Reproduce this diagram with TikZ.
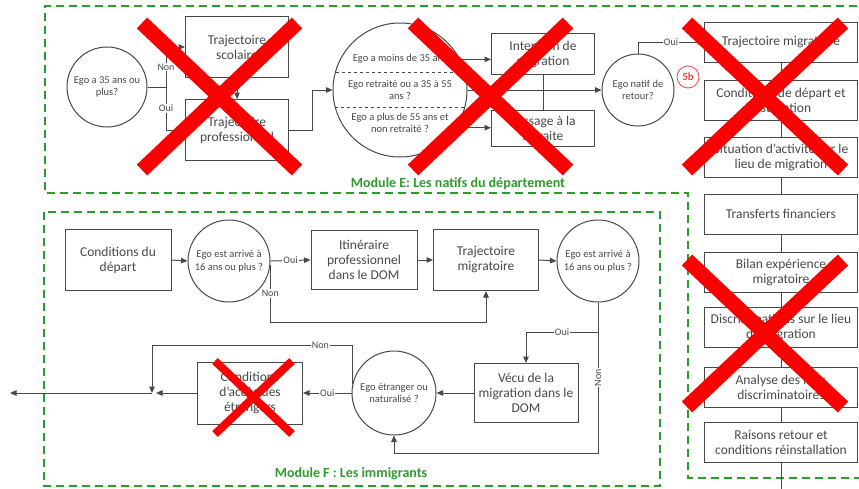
\documentclass[tikz,border=0pt]{standalone}
\usepackage{fontspec}
\setmainfont{Carlito}
\usetikzlibrary{arrows.meta}
\definecolor{ink}{RGB}{72,72,72}
\definecolor{modgreen}{RGB}{44,156,44}
\definecolor{crossred}{RGB}{250,0,0}
\definecolor{tagred}{RGB}{235,70,70}

\begin{document}
\begin{tikzpicture}[
        x=1pt, y=-1pt,
        font=\fontsize{13.5}{15}\selectfont,
        box/.style={draw=ink, line width=1pt, text=ink, align=center, inner sep=2pt},
        ask/.style={draw=ink, line width=1pt, circle, text=ink, align=center, inner sep=0pt, font=\fontsize{10.5}{12.5}\selectfont},
        asktxt/.style={text=ink, align=center, inner sep=0pt, font=\fontsize{10.5}{12.5}\selectfont},
        line/.style={draw=ink, line width=1pt},
        arrow/.style={line, -{Triangle[length=6.5pt,width=5.5pt]}},
        lab/.style={fill=white, text=ink, inner sep=1pt, font=\fontsize{10}{11}\selectfont},
        module/.style={draw=modgreen, line width=2.5pt, dash pattern=on 8pt off 5pt},
        modlabel/.style={text=modgreen, font=\fontsize{14}{16}\selectfont\bfseries},
        cross/.style={draw=crossred, line width=15pt}
    ]
        \useasboundingbox (0,0) rectangle (859,488);

        % Module outlines
        \draw[module] (870,6) -- (45,6) -- (45,193) -- (688,193) -- (688,478) -- (870,478);
        \draw[module] (44,212) rectangle (660,486);
        \node[modlabel] (labE) at (458,184) {Module E: Les natifs du département};
        \node[modlabel] (labF) at (351,474) {Module F : Les immigrants};

        % Module E
        \node[ask, minimum size=80pt] (q35) at (107,87) {Ego a 35 ans ou\\plus?};
        \coordinate (j35) at (166,87);
        \node[box, minimum width=103pt, minimum height=61pt] (scol) at (237,47) {Trajectoire\\scolaire};
        \node[box, minimum width=103pt, minimum height=61pt] (prof) at (237,130) {Trajectoire\\professionnel};
        \node[ask, minimum size=134pt] (age) at (400,90) {};
        \draw[ink, line width=0.8pt, dashed] (335.5,72) -- (464.5,72) (335.2,107) -- (464.8,107);
        \node[asktxt] (ageA) at (400,59) {Ego a moins de 35 ans};
        \node[asktxt] (ageB) at (400,90) {Ego retraité ou a 35 à 55\\ans ?};
        \node[asktxt] (ageC) at (400,123) {Ego a plus de 55 ans et\\non retraité ?};
        \node[box, minimum width=103pt, minimum height=41pt] (inten) at (543,54) {Intention de\\migration};
        \node[box, minimum width=103pt, minimum height=36pt] (retr) at (543,128) {Passage à la\\retraite};
        \node[ask, minimum size=72pt] (natif) at (638,90) {Ego natif de\\retour?};
        \node[draw=tagred, line width=0.8pt, circle, minimum size=22pt, inner sep=0pt, text=tagred,
            font=\fontsize{11}{12}\selectfont\bfseries] (tag) at (688,77) {5b};

        \draw[line] (q35.east) -- (j35);
        \draw[arrow] (j35) |- node[lab, pos=0.25] {Non} (scol.west);
        \draw[arrow] (j35) |- node[lab, pos=0.25] {Oui} (prof.west);
        \draw[arrow] (scol.south) -- (prof.north);
        \draw[arrow] (prof.east) -- ++(23,0) |- (age.west);
        \draw[arrow] (age.27) -- (age.27 -| inten.west);
        \draw[arrow] (age.-34) -- (age.-34 -| retr.west);
        \draw[line] (inten.south) -- (retr.north);
        \draw[arrow] (age.east) -- (natif.west);

        % Right column
        \foreach \n/\y/\txt in {1/42/Trajectoire migratoire,
                                2/100/{Conditions de départ et\\installation},
                                3/157/{Situation d’activité sur le\\lieu de migration},
                                4/214/Transferts financiers,
                                5/272/{Bilan expérience\\migratoire},
                                6/327/{Discriminations sur le lieu\\de migration},
                                7/387/{Analyse des faits\\discriminatoires},
                                8/442/{Raisons retour et\\conditions réinstallation}}
        {
            \node[box, minimum width=153pt, minimum height=40pt] (r\n) at (781,\y) {\txt};
        }
        \foreach \a [count=\b from 2] in {1,...,7}
            \draw[line] (r\a.south) -- (r\b.north);
        \coordinate (rend) at (781,490);
        \draw[line] (r8.south) -- (rend);
        \draw[arrow] (natif.north) |- node[lab, pos=0.75] {Oui} (r1.west);

        % Module F
        \node[box, minimum width=106pt, minimum height=61pt] (cdep) at (118,260) {Conditions du\\départ};
        \node[ask, minimum size=82pt] (q16a) at (229,261) {Ego est arrivé à\\16 ans ou plus ?};
        \node[box, minimum width=106pt, minimum height=59pt] (itin) at (364,260) {Itinéraire\\professionnel\\dans le DOM};
        \node[box, minimum width=105pt, minimum height=61pt] (trajm) at (486,260) {Trajectoire\\migratoire};
        \node[ask, minimum size=82pt] (q16b) at (598,261) {Ego est arrivé à\\16 ans ou plus ?};
        \node[box, minimum width=104pt, minimum height=59pt] (vecu) at (526,393) {Vécu de la\\migration dans le\\DOM};
        \node[ask, minimum size=84pt] (qetr) at (394,393) {Ego étranger ou\\naturalisé ?};
        \node[box, minimum width=105pt, minimum height=62pt] (cacc) at (250,393) {Conditions\\d’accès des\\étrangers};
        \coordinate (jnon) at (271,322);
        \coordinate (joui) at (598,332);
        \coordinate (jbot) at (598,453);
        \coordinate (jtop) at (152,345);
        \coordinate (jx) at (152,393);
        \coordinate (outl) at (10,393);

        \draw[arrow] (cdep.east) -- (q16a.west);
        \draw[arrow] (q16a.east) -- node[lab] {Oui} (itin.west);
        \draw[arrow] (q16a.-6) -- node[lab] {Non} (q16a.-6 |- jnon) -| (trajm.south);
        \draw[arrow] (itin.east) -- (trajm.west);
        \draw[arrow] (trajm.east) -- (q16b.west);
        \draw[arrow] (q16b.south) -- node[lab, rotate=90] {Non} (jbot) -| (qetr.south);
        \draw[arrow] (joui) -- node[lab] {Oui} (joui -| vecu.north) -- (vecu.north);
        \draw[arrow] (vecu.west) -- (qetr.east);
        \draw[arrow] (qetr.west) -- node[lab] {Oui} (cacc.east);
        \draw[arrow] (qetr.168) -- (qetr.168 |- jtop) -| node[lab, pos=0.08] {Non} (jx);
        \draw[arrow] (cacc.west) -- ([xshift=4pt]jx);
        \draw[arrow] (jx) -- (outl);

        % Red crosses
        \foreach \xa/\ya/\xb/\yb/\w in {142/23/297/170/15, 413/23/568/170/15, 687/23/843/170/15,
                                          687/260/843/407/15, 215/361/292/434/8}
        {
            \draw[cross, line width=\w pt] (\xa,\ya) -- (\xb,\yb) (\xb,\ya) -- (\xa,\yb);
        }
    \end{tikzpicture}
\end{document}
